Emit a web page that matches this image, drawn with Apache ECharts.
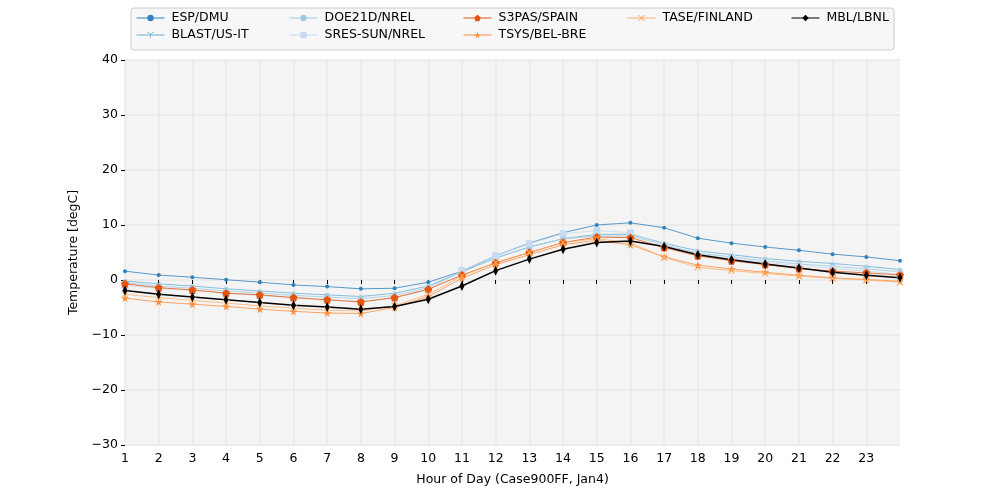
<!DOCTYPE html>
<html><head><meta charset="utf-8">
<script src="https://cdn.jsdelivr.net/npm/echarts@6/dist/echarts.min.js"></script>
<style>html,body{margin:0;padding:0;background:#fff}#c{width:1000px;height:500px}</style>
</head><body><div id="c"></div>
<script>
const hours = [1,2,3,4,5,6,7,8,9,10,11,12,13,14,15,16,17,18,19,20,21,22,23,24];
const xTicks = [1,2,3,4,5,6,7,8,9,10,11,12,13,14,15,16,17,18,19,20,21,22,23];
const yTicks = [-30,-20,-10,0,10,20,30,40];
const espDmu   = [1.6,0.9,0.5,0.05,-0.4,-0.9,-1.2,-1.6,-1.5,-0.4,1.6,4.4,6.7,8.6,10.0,10.4,9.5,7.6,6.7,6.0,5.4,4.7,4.2,3.5];
const blastUsIt= [-0.2,-0.7,-1.1,-1.6,-2.0,-2.4,-2.7,-3.0,-2.4,-1.1,1.5,4.0,6.0,7.5,8.3,8.3,6.7,5.3,4.6,3.9,3.4,3.0,2.5,1.9];
const doe21d   = [-0.5,-1.1,-1.5,-2.0,-2.4,-2.8,-3.1,-3.4,-2.8,-1.4,1.5,4.0,6.0,7.5,8.0,8.0,6.4,4.9,4.2,3.5,2.9,2.5,2.0,1.5];
const sresSun  = [-1.0,-1.5,-1.9,-2.4,-2.8,-3.2,-3.6,-3.9,-3.2,-1.8,1.7,4.4,6.6,8.4,9.0,8.6,6.3,4.8,3.9,3.2,2.6,2.1,1.6,1.1];
const s3pas    = [-0.7,-1.4,-1.8,-2.4,-2.7,-3.2,-3.6,-4.0,-3.2,-1.7,0.9,3.1,5.0,6.8,7.8,7.7,5.9,4.4,3.5,2.8,2.1,1.6,1.3,0.9];
const tsys     = [-3.3,-4.0,-4.4,-4.8,-5.3,-5.7,-6.0,-6.1,-5.0,-3.0,0.3,2.8,4.6,6.4,7.2,6.4,4.2,2.7,2.0,1.4,0.85,0.4,0.1,-0.25];
const tase     = [-2.6,-3.2,-3.7,-4.2,-4.7,-5.1,-5.5,-5.6,-4.7,-2.6,0.7,3.2,5.0,6.8,7.5,6.8,4.1,2.3,1.7,1.2,0.7,0.3,0.0,-0.4];
const mbl      = [-1.9,-2.6,-3.1,-3.6,-4.1,-4.6,-4.9,-5.3,-4.8,-3.5,-1.1,1.7,3.8,5.6,6.8,7.1,6.1,4.6,3.7,2.9,2.2,1.4,0.85,0.4];

const PENT = 'path://M0,-1L0.951,-0.309L0.588,0.809L-0.588,0.809L-0.951,-0.309Z';
const STAR = 'path://M0,-1L0.225,-0.309L0.951,-0.309L0.363,0.118L0.588,0.809L0,0.382L-0.588,0.809L-0.363,0.118L-0.951,-0.309L-0.225,-0.309Z';
const XMK = 'path://M-1,-0.8L-0.8,-1L0,-0.2L0.8,-1L1,-0.8L0.2,0L1,0.8L0.8,1L0,0.2L-0.8,1L-1,0.8L-0.2,0Z';
const TRI = 'path://M-0.1,0L-0.1,1L0.1,1L0.1,0L0.95,-0.5L0.85,-0.65L0,-0.15L-0.85,-0.65L-0.95,-0.5Z';

const defs = [
  {name:'ESP/DMU', d:espDmu, c:'#3182bd', s:'circle', z:4, w:0.8},
  {name:'BLAST/US-IT', d:blastUsIt, c:'#6baed6', s:TRI, z:4, w:0.8},
  {name:'DOE21D/NREL', d:doe21d, c:'#9ecae1', s:'circle', z:6, w:0.8},
  {name:'SRES-SUN/NREL', d:sresSun, c:'#c6dbef', s:'rect', z:7, w:0.8},
  {name:'S3PAS/SPAIN', d:s3pas, c:'#e6550d', s:PENT, z:8, w:0.8},
  {name:'TSYS/BEL-BRE', d:tsys, c:'#fd8d3c', s:STAR, z:8, w:0.8},
  {name:'TASE/FINLAND', d:tase, c:'#fdae6b', s:XMK, z:7, w:0.8},
  {name:'MBL/LBNL', d:mbl, c:'#000000', s:'diamond', z:[5,10], w:1.5}
];

const series = defs.map(o => ({
  name:o.name, type:'line', data:hours.map((h,i)=>[h,o.d[i]]),
  symbol:o.s, symbolSize:o.z, showSymbol:true,
  lineStyle:{color:o.c, width:o.w}, itemStyle:{color:o.c}, color:o.c,
  animation:false, emphasis:{disabled:true}
}));

const legCols = [
  {left:136, names:['ESP/DMU','BLAST/US-IT']},
  {left:289, names:['DOE21D/NREL','SRES-SUN/NREL']},
  {left:463, names:['S3PAS/SPAIN','TSYS/BEL-BRE']},
  {left:627, names:['TASE/FINLAND']},
  {left:791, names:['MBL/LBNL']}
];
const legends = legCols.map(c => ({
  orient:'vertical', left:c.left, top:11.5, itemWidth:28, itemHeight:8, itemGap:4,
  data:c.names, selectedMode:false, padding:0,
  lineStyle:{width:1},
  textStyle:{fontFamily:'DejaVu Sans', fontSize:12.5, color:'#000', padding:[0,0,0,2]}
}));

const minus = v => String(v).replace('-', '\u2212');
const chart = echarts.init(document.getElementById('c'), null, {renderer:'canvas'});
chart.setOption({
  animation:false,
  backgroundColor:'#fff',
  graphic:[{type:'rect', shape:{x:131, y:8, width:763, height:42, r:3}, style:{fill:'#f7f7f7', stroke:'#cccccc', lineWidth:1}, z:-1}],
  legend:legends,
  grid:{left:125, right:100, top:60, bottom:55, show:true, backgroundColor:'#f4f4f4', borderWidth:0},
  xAxis:{type:'value', min:1, max:24, interval:1,
    name:'Hour of Day (Case900FF, Jan4)', nameLocation:'middle', nameGap:28,
    nameTextStyle:{fontFamily:'DejaVu Sans', fontSize:12.5, color:'#000'},
    axisLine:{show:false},
    axisTick:{show:true, length:4, lineStyle:{color:'#000'}, customValues:xTicks},
    axisLabel:{fontFamily:'DejaVu Sans', fontSize:12.5, color:'#000', margin:7, customValues:xTicks},
    splitLine:{show:true, lineStyle:{color:'#e8e8e8', width:1.5}}},
  yAxis:{type:'value', min:-30, max:40, interval:10,
    name:'Temperature [degC]', nameLocation:'middle', nameGap:44,
    nameTextStyle:{fontFamily:'DejaVu Sans', fontSize:12.5, color:'#000'},
    axisLine:{show:false},
    axisTick:{show:true, length:4, lineStyle:{color:'#000'}},
    axisLabel:{fontFamily:'DejaVu Sans', fontSize:12.5, color:'#000', margin:7, formatter:minus},
    splitLine:{show:true, lineStyle:{color:'#e8e8e8', width:1.5}}},
  series:series
});
</script></body></html>
